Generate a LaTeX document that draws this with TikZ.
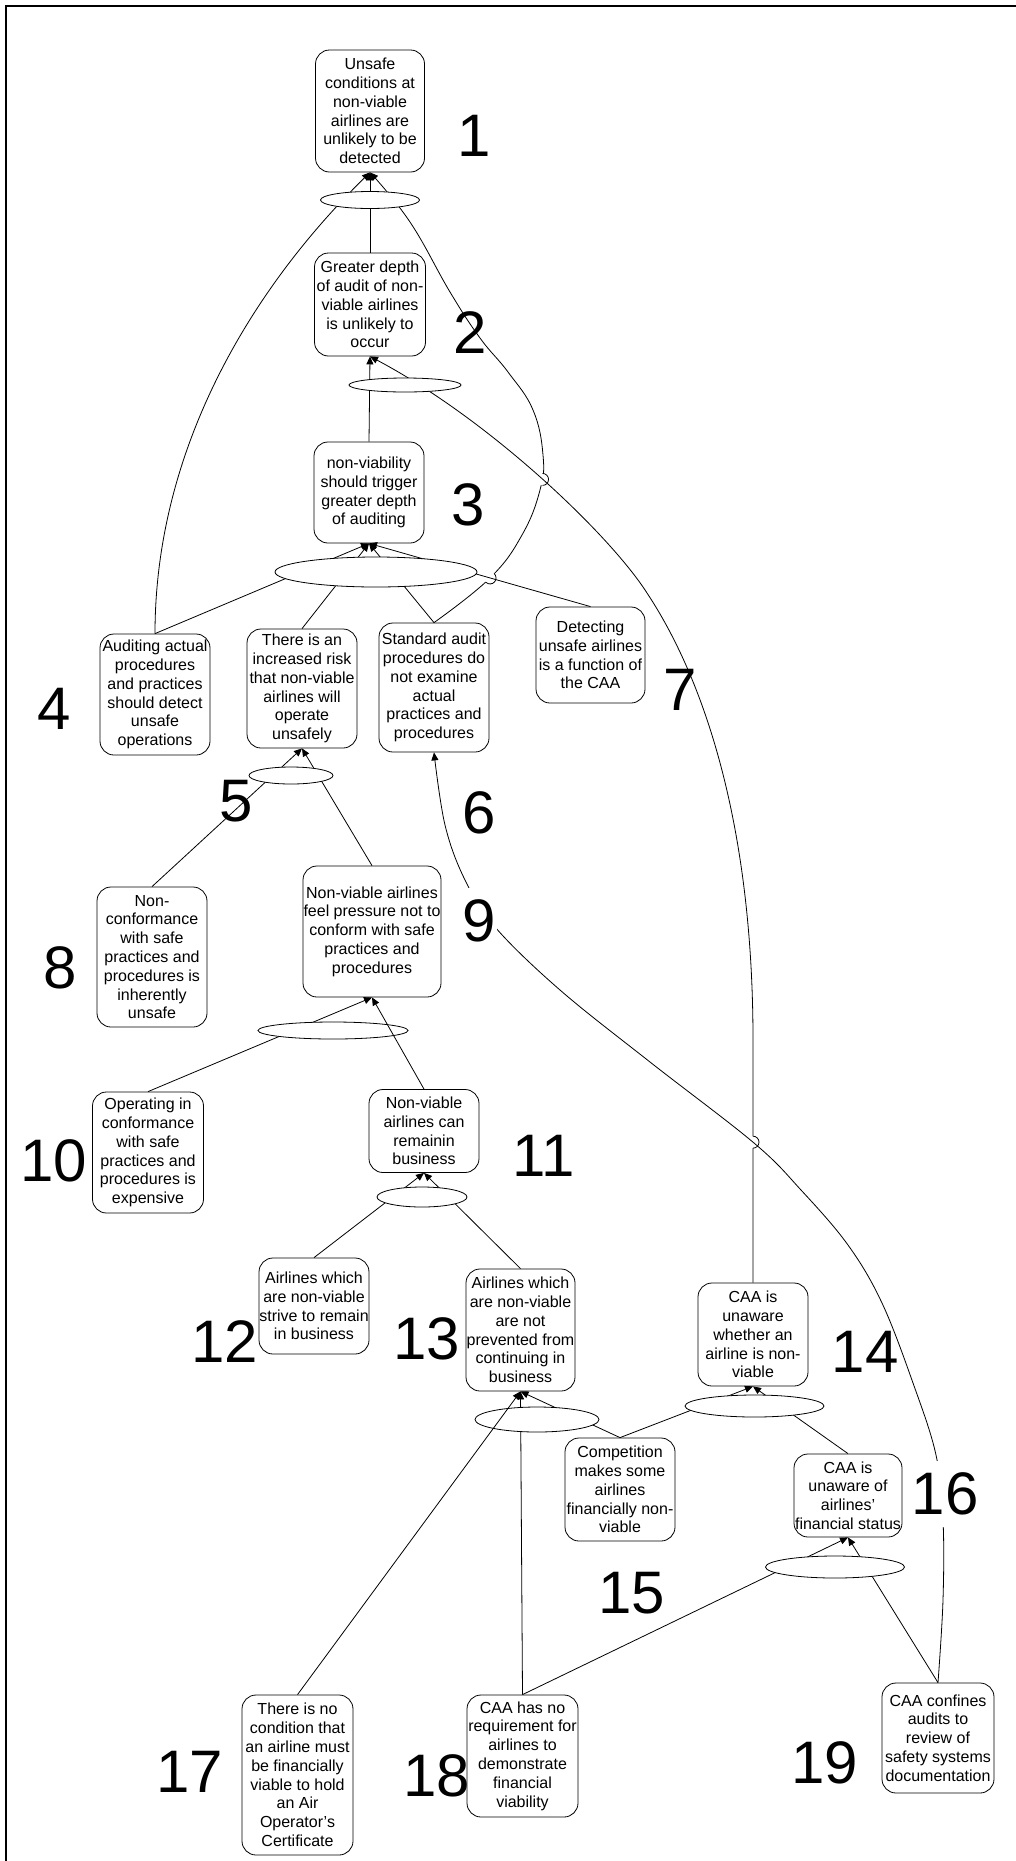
\documentclass[tikz,border=0pt]{standalone}
\usepackage{fontspec}
\setmainfont{Liberation Sans}
\usetikzlibrary{arrows.meta,shapes.geometric,intersections,calc}
\newcommand\cbxfont{\fontsize{16}{18.8}\selectfont}
\newcommand\cbxnum{\fontsize{60}{60}\selectfont}
\begin{document}
\begin{tikzpicture}[x=1pt,y=-1pt,
  box/.style 2 args={draw, rounded corners=14pt, align=center, inner sep=0pt,
    minimum width=#1, minimum height=#2, font=\cbxfont, line width=0.8pt},
  junc/.style 2 args={draw, ellipse, fill=white, inner sep=0pt,
    minimum width=#1, minimum height=#2, line width=0.8pt},
  num/.style={font=\cbxnum, inner sep=0pt},
  numw/.style={num, fill=white, inner xsep=1pt, inner ysep=12pt},
  link/.style={line width=0.8pt},
  tip/.style={link, -{Triangle[length=8pt,width=7pt]}}
]
\useasboundingbox (0,0) rectangle (1016,1861);

% frame
\draw[line width=2pt] (6,1861) -- (6,6) -- (1016,6);

% statements
\node[box={109pt}{122pt}] (n1) at (370,111) {Unsafe\\conditions at\\non-viable\\airlines are\\unlikely to be\\detected};
\node[box={111pt}{103pt}] (n2) at (370,304.5) {Greater depth\\of audit of non-\\viable airlines\\is unlikely to\\occur};
\node[box={110pt}{101pt}] (n3) at (369,492.5) {non-viability\\should trigger\\greater depth\\of auditing};
\node[box={110pt}{121pt}] (n4) at (155,694.5) {Auditing actual\\procedures\\and practices\\should detect\\unsafe\\operations};
\node[box={110pt}{119pt}] (n5) at (302,688.5) {There is an\\increased risk\\that non-viable\\airlines will\\operate\\unsafely};
\node[box={110pt}{129pt}] (n6) at (434,687.5) {Standard audit\\procedures do\\not examine\\actual\\practices and\\procedures};
\node[box={109pt}{96pt}] (n7) at (590.5,655) {Detecting\\unsafe airlines\\is a function of\\the CAA};
\node[box={110pt}{140pt}] (n8) at (152,957) {Non-\\conformance\\with safe\\practices and\\procedures is\\inherently\\unsafe};
\node[box={138pt}{131pt}] (n9) at (372,931.5) {Non-viable airlines\\feel pressure not to\\conform with safe\\practices and\\procedures};
\node[box={111pt}{121pt}] (n10) at (148,1152.5) {Operating in\\conformance\\with safe\\practices and\\procedures is\\expensive};
\node[box={110pt}{83pt}] (n11) at (424,1131) {Non-viable\\airlines can\\remainin\\business};
\node[box={110pt}{96pt}] (n12) at (314,1306) {Airlines which\\are non-viable\\strive to remain\\in business};
\node[box={109pt}{122pt}] (n13) at (520.5,1330) {Airlines which\\are non-viable\\are not\\prevented from\\continuing in\\business};
\node[box={110pt}{103pt}] (n14) at (753,1334.5) {CAA is\\unaware\\whether an\\airline is non-\\viable};
\node[box={110pt}{103pt}] (n15) at (620,1489.5) {Competition\\makes some\\airlines\\financially non-\\viable};
\node[box={108pt}{83pt}] (n16) at (848,1495.5) {CAA is\\unaware of\\airlines’\\financial status};
\node[box={111pt}{160pt}] (n17) at (297.5,1775) {There is no\\condition that\\an airline must\\be financially\\viable to hold\\an Air\\Operator’s\\Certificate};
\node[box={111pt}{122pt}] (n18) at (522.5,1756) {CAA has no\\requirement for\\airlines to\\demonstrate\\financial\\viability};
\node[box={112pt}{110pt}] (n19) at (938,1738) {CAA confines\\audits to\\review of\\safety systems\\documentation};

% long curved link from 6 up to 1, hopping over two crossings
\draw[tip, name path=pC] plot[smooth, tension=0.7] coordinates {(n6.north) (490,578) (522,535) (540,490) (543,455) (533,410) (508,372) (480,338) (450,292) (410,222) (n1.south)};
\path[name path=p73] (n7.north) -- (n3.south);
\path[name path=pA] (n14.north) -- (753,1040) .. controls (753,820) and (702,676) .. (647,593) .. controls (610,535) and (490,420) .. (n2.south);
\path[name intersections={of=pC and p73, by={j1}}];
\path[name intersections={of=pC and pA, by={j2}}];
\fill[white] (j1) circle[radius=6];
\fill[white] (j2) circle[radius=6];
\draw[link] ($(j1)+(132:6)$) arc[start angle=132, delta angle=-180, radius=6];
\draw[link] ($(j2)+(90:6)$) arc[start angle=90, delta angle=-180, radius=6];

% long link from 14 up to 2
\draw[tip] (n14.north) -- (753,1040) .. controls (753,820) and (702,676) .. (647,593) .. controls (610,535) and (490,420) .. (n2.south);
\path[name path=pB] plot[smooth, tension=0.6] coordinates {(n19.north) (943,1600) (943,1520) (936,1455) (913,1383) (882,1303) (848,1245) (801,1190) (754,1143) (650,1062) (560,990) (495,927) (465,880) (445,825) (n6.south)};
\path[name intersections={of=pA and pB, by={j3}}];
\fill[white] (j3) circle[radius=6];
\draw[link] ($(j3)+(90:6)$) arc[start angle=90, delta angle=-180, radius=6];

% long link from 19 up to 6
\draw[tip] plot[smooth, tension=0.6] coordinates {(n19.north) (943,1600) (943,1520) (936,1455) (913,1383) (882,1303) (848,1245) (801,1190) (754,1143) (650,1062) (560,990) (495,927) (465,880) (445,825) (n6.south)};

% links through the junctions
\draw[tip] (n2.north) -- (n1.south);
\draw[tip] (n4.north) .. controls (155,450) and (250,290) .. (n1.south);
\draw[tip] (n3.north) -- (n2.south);
\draw[tip] (n4.north) -- (n3.south);
\draw[tip] (n5.north) -- (n3.south);
\draw[tip] (n6.north) -- (n3.south);
\draw[tip] (n7.north) -- (n3.south);
\draw[tip] (n8.north) -- (n5.south);
\draw[tip] (n9.north) -- (n5.south);
\draw[tip] (n10.north) -- (n9.south);
\draw[tip] (n12.north) -- (n11.south);
\draw[tip] (n13.north) -- (n11.south);
\draw[tip] (n18.north) -- (n13.south);
\draw[tip] (n15.north) -- (n13.south);
\draw[tip] (n15.north) -- (n14.south);
\draw[tip] (n16.north) -- (n14.south);
\draw[tip] (n18.north) -- (n16.south);
\draw[tip] (n19.north) -- (n16.south);

% junctions
\node[junc={99pt}{17pt}] (e1) at (370,200) {};
\node[junc={112pt}{14pt}] (e2) at (405,385) {};
\node[junc={202pt}{30pt}] (e3) at (376,572) {};
\node[junc={84pt}{17pt}] (e5) at (291,775.5) {};
\node[junc={150pt}{17pt}] (e9) at (333,1030.5) {};
\node[junc={90pt}{20pt}] (e11) at (422,1197) {};
\node[junc={124pt}{25pt}] (e13) at (537,1419.5) {};
\node[junc={139pt}{22pt}] (e14) at (754.5,1406) {};
\node[junc={139pt}{22pt}] (e16) at (835,1567) {};

% direct links
\draw[tip] (n11.north) -- (n9.south);
\draw[tip] (n17.north) -- (n13.south);

% numbers
\node[num] (l1) at (474,136) {1};
\node[num] (l2) at (470,333) {2};
\node[num] (l3) at (468,505) {3};
\node[num] (l4) at (54,709) {4};
\node[num] (l5) at (236,801) {5};
\node[num] (l6) at (479,813) {6};
\node[num] (l7) at (680,690) {7};
\node[num] (l8) at (60,968) {8};
\node[numw] (l9) at (479,921) {9};
\node[num] (l10) at (54,1161) {10};
\node[num] (l11) at (544,1156) {11};
\node[num] (l12) at (225,1342) {12};
\node[num] (l13) at (427,1339) {13};
\node[num] (l14) at (865,1352) {14};
\node[num] (l15) at (632,1593) {15};
\node[numw] (l16) at (945,1494) {16};
\node[num] (l17) at (190,1772) {17};
\node[num] (l18) at (437,1776) {18};
\node[num] (l19) at (825,1763) {19};
\end{tikzpicture}
\end{document}
